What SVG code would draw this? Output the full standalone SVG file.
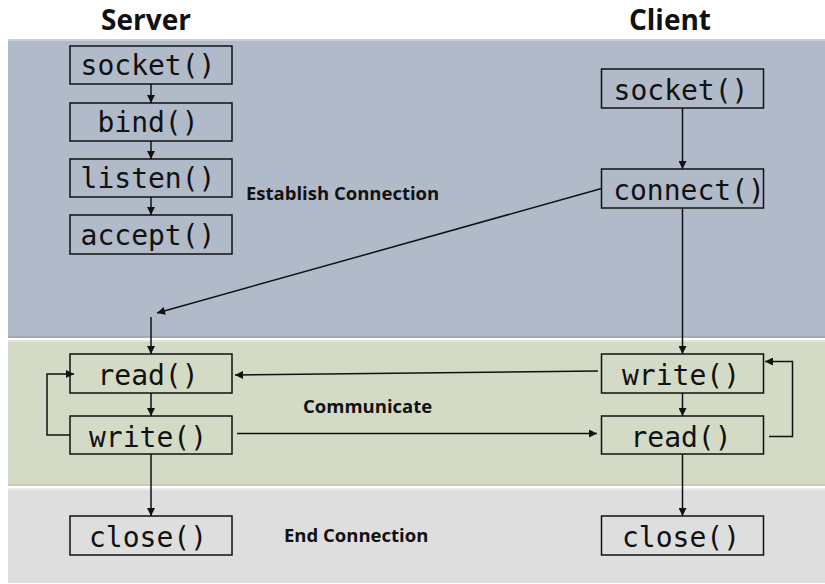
<svg xmlns="http://www.w3.org/2000/svg" width="825" height="584" viewBox="0 0 825 584">
<style>
.title{font-family:"Open Sans","Noto Sans","DejaVu Sans",sans-serif;font-weight:bold;font-size:28px;fill:#111;text-anchor:middle}
.label{font-family:"Open Sans","Noto Sans","DejaVu Sans",sans-serif;font-weight:bold;font-size:18.5px;fill:#111}
.box{fill:none;stroke:#111;stroke-width:1.5}
.fn{font-family:"DejaVu Sans Mono","Liberation Mono",monospace;font-size:28px;fill:#111;text-anchor:middle}
.conn{fill:none;stroke:#111;stroke-width:1.5}
</style>
<defs>
<marker id="arr" viewBox="0 0 10 10" refX="10" refY="5" markerWidth="9" markerHeight="8" markerUnits="userSpaceOnUse" orient="auto">
<path d="M0,0 L10,5 L0,10 z" fill="#111"/>
</marker>
</defs>
<rect width="825" height="584" fill="#ffffff"/>
<g id="panels">
<rect x="8" y="39" width="817" height="299" fill="#b0bac9"/>
<rect x="8" y="39" width="817" height="2" fill="#c9d0da"/>
<rect x="8" y="336" width="817" height="2" fill="#a3aab4"/>
<rect x="8" y="340" width="817" height="146" fill="#d3dbc6"/>
<rect x="8" y="340" width="817" height="2" fill="#e2e7da"/>
<rect x="8" y="484" width="817" height="2" fill="#c6ccba"/>
<rect x="8" y="488" width="817" height="95" fill="#dedede"/>
<rect x="8" y="488" width="817" height="2" fill="#ececec"/>
</g>
<text class="title" x="146" y="30">Server</text>
<text class="title" x="670" y="30">Client</text>
<text class="label" x="246" y="200">Establish Connection</text>
<text class="label" x="303" y="413">Communicate</text>
<text class="label" x="284" y="542">End Connection</text>
<g id="s_socket"><rect class="box" x="70" y="46" width="162" height="38"/><text class="fn" x="148" y="75">socket()</text></g>
<g id="s_bind"><rect class="box" x="70" y="103" width="162" height="38"/><text class="fn" x="148" y="132">bind()</text></g>
<g id="s_listen"><rect class="box" x="70" y="159" width="162" height="38"/><text class="fn" x="148" y="188">listen()</text></g>
<g id="s_accept"><rect class="box" x="70" y="215" width="162" height="39"/><text class="fn" x="148" y="245">accept()</text></g>
<g id="s_read"><rect class="box" x="70" y="354" width="162" height="39"/><text class="fn" x="148" y="385">read()</text></g>
<g id="s_write"><rect class="box" x="70" y="416" width="162" height="38"/><text class="fn" x="148" y="447">write()</text></g>
<g id="s_close"><rect class="box" x="70" y="516" width="162" height="39"/><text class="fn" x="148" y="547">close()</text></g>
<g id="c_socket"><rect class="box" x="601.5" y="69" width="162" height="39"/><text class="fn" x="681" y="100">socket()</text></g>
<g id="c_connect"><rect class="box" x="601.5" y="169" width="162" height="39"/><text class="fn" x="689" y="200">connect()</text></g>
<g id="c_write"><rect class="box" x="601.5" y="354" width="162" height="39"/><text class="fn" x="681" y="385">write()</text></g>
<g id="c_read"><rect class="box" x="601.5" y="416" width="162" height="38"/><text class="fn" x="681" y="447">read()</text></g>
<g id="c_close"><rect class="box" x="601.5" y="516" width="162" height="39"/><text class="fn" x="681" y="547">close()</text></g>
<g id="connectors">
<line class="conn" x1="151" y1="84" x2="151" y2="103" marker-end="url(#arr)"/>
<line class="conn" x1="151" y1="141" x2="151" y2="159" marker-end="url(#arr)"/>
<line class="conn" x1="151" y1="197" x2="151" y2="215" marker-end="url(#arr)"/>
<line class="conn" x1="682.5" y1="108" x2="682.5" y2="169" marker-end="url(#arr)"/>
<line class="conn" x1="601.5" y1="188.5" x2="157" y2="313" marker-end="url(#arr)"/>
<line class="conn" x1="151" y1="317" x2="151" y2="354" marker-end="url(#arr)"/>
<line class="conn" x1="151" y1="393" x2="151" y2="416" marker-end="url(#arr)"/>
<line class="conn" x1="151" y1="454" x2="151" y2="516" marker-end="url(#arr)"/>
<polyline class="conn" points="70,435 47,435 47,374 74,374" marker-end="url(#arr)"/>
<line class="conn" x1="598" y1="371" x2="235" y2="375" marker-end="url(#arr)"/>
<line class="conn" x1="237" y1="433.5" x2="597" y2="433.5" marker-end="url(#arr)"/>
<line class="conn" x1="682.5" y1="208" x2="682.5" y2="354" marker-end="url(#arr)"/>
<line class="conn" x1="682.5" y1="393" x2="682.5" y2="416" marker-end="url(#arr)"/>
<line class="conn" x1="682.5" y1="454" x2="682.5" y2="516" marker-end="url(#arr)"/>
<polyline class="conn" points="769,436.5 792.5,436.5 792.5,361.5 765,361.5" marker-end="url(#arr)"/>
</g>
</svg>
